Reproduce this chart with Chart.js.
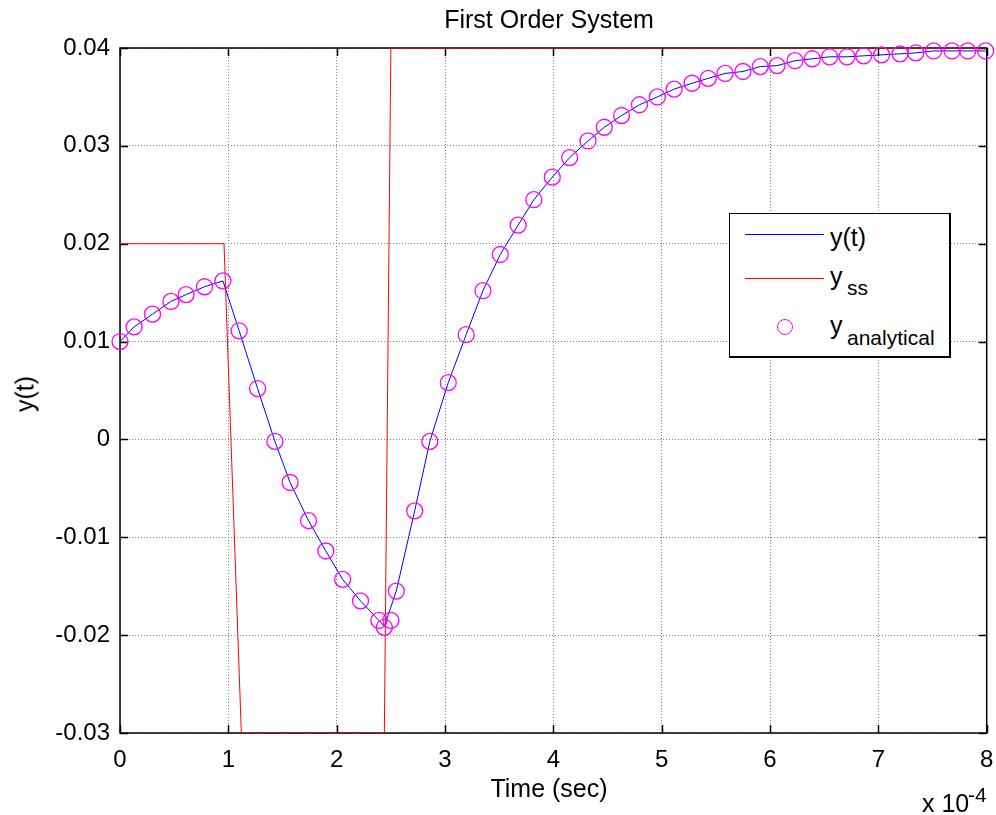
<!DOCTYPE html>
<html>
<head>
<meta charset="utf-8">
<script src="https://cdn.jsdelivr.net/npm/chart.js@4.4.0/dist/chart.umd.min.js"></script>
<style>
  body { margin: 0; background: #fff; }
  #wrap { position: relative; width: 996px; height: 815px; }
  .txt { position: absolute; font-family: 'Liberation Sans', Arial, sans-serif; color: #000; white-space: nowrap; }
</style>
</head>
<body>
<div id="wrap">
  <canvas id="c" width="996" height="815"></canvas>
</div>
<script>
// time axis in units of 1e-4 sec
var ssTime = [0, 0.96, 1.12, 2.44, 2.50, 8];
var ssVals = [0.02, 0.02, -0.03, -0.03, 0.04, 0.04];

var yTime = [0, 0.13, 0.30, 0.47, 0.61, 0.78, 0.95, 1.10, 1.27, 1.43, 1.57, 1.74, 1.90, 2.055, 2.22, 2.39, 2.44,
             2.55, 2.72, 2.86, 3.03, 3.195, 3.35, 3.51, 3.675, 3.82, 3.99, 4.15, 4.32, 4.47, 4.63, 4.795, 4.96,
             5.115, 5.28, 5.43, 5.585, 5.75, 5.91, 6.065, 6.23, 6.39, 6.55, 6.71, 6.865, 7.03, 7.20, 7.345, 7.51,
             7.68, 7.825, 7.99];
var yVals = [0.0100, 0.0115, 0.0128, 0.0141, 0.0148, 0.0156, 0.0162, 0.0111, 0.0052, -0.0002, -0.0044, -0.0083,
             -0.0114, -0.0143, -0.0165, -0.0185, -0.0191, -0.0155, -0.0073, -0.0002, 0.0058, 0.0107, 0.0152,
             0.0189, 0.0219, 0.0245, 0.0268, 0.0288, 0.0305, 0.0319, 0.0331, 0.0342, 0.0350, 0.0358, 0.0364,
             0.0369, 0.0374, 0.0376, 0.0381, 0.0382, 0.0387, 0.0389, 0.0391, 0.0391, 0.0392, 0.0393, 0.0394,
             0.0395, 0.0397, 0.0397, 0.0397, 0.0397];

var aTime = [0, 0.13, 0.30, 0.47, 0.61, 0.78, 0.95, 1.10, 1.27, 1.43, 1.57, 1.74, 1.90, 2.055, 2.22, 2.39, 2.44,
             2.50, 2.55, 2.72, 2.86, 3.03, 3.195, 3.35, 3.51, 3.675, 3.82, 3.99, 4.15, 4.32, 4.47, 4.63, 4.795,
             4.96, 5.115, 5.28, 5.43, 5.585, 5.75, 5.91, 6.065, 6.23, 6.39, 6.55, 6.71, 6.865, 7.03, 7.20, 7.345,
             7.51, 7.68, 7.825, 7.99];
var aVals = [0.0100, 0.0115, 0.0128, 0.0141, 0.0148, 0.0156, 0.0162, 0.0111, 0.0052, -0.0002, -0.0044, -0.0083,
             -0.0114, -0.0143, -0.0165, -0.0185, -0.0192, -0.0185, -0.0155, -0.0073, -0.0002, 0.0058, 0.0107,
             0.0152, 0.0189, 0.0219, 0.0245, 0.0268, 0.0288, 0.0305, 0.0319, 0.0331, 0.0342, 0.0350, 0.0358,
             0.0364, 0.0369, 0.0374, 0.0376, 0.0381, 0.0382, 0.0387, 0.0389, 0.0391, 0.0391, 0.0392, 0.0393,
             0.0394, 0.0395, 0.0397, 0.0397, 0.0397, 0.0397];

var xTicks = [0, 1, 2, 3, 4, 5, 6, 7, 8];
var yTicks = [-0.03, -0.02, -0.01, 0, 0.01, 0.02, 0.03, 0.04];

function pts(t, v) {
    var out = [];
    for (var i = 0; i < t.length; i++) out.push({ x: t[i], y: v[i] });
    return out;
}

var FONT = "'Liberation Sans', Arial, sans-serif";

// axes box + inward ticks, matlab style
var boxPlugin = {
    id: 'box',
    beforeDatasetsDraw: function (chart) {
        var ctx = chart.ctx, a = chart.chartArea;
        var sx = chart.scales.x, sy = chart.scales.y;
        ctx.save();
        ctx.strokeStyle = '#000';
        ctx.lineWidth = 1.5;
        ctx.beginPath();
        xTicks.forEach(function (v) {
            var px = Math.round(sx.getPixelForValue(v)) + 0.5;
            ctx.moveTo(px, a.bottom); ctx.lineTo(px, a.bottom - 8);
            ctx.moveTo(px, a.top); ctx.lineTo(px, a.top + 8);
        });
        yTicks.forEach(function (v) {
            var py = Math.round(sy.getPixelForValue(v)) + 0.5;
            ctx.moveTo(a.left, py); ctx.lineTo(a.left + 8, py);
            ctx.moveTo(a.right, py); ctx.lineTo(a.right - 8, py);
        });
        ctx.stroke();
        ctx.lineWidth = 1.5;
        ctx.strokeRect(a.left, a.top, a.right - a.left, a.bottom - a.top);
        ctx.restore();
    }
};

new Chart(document.getElementById('c'), {
    type: 'scatter',
    data: {
        datasets: [
            {
                label: 'y(t)',
                data: pts(yTime, yVals),
                showLine: true,
                borderColor: '#0000ff',
                borderWidth: 1,
                pointRadius: 0,
                tension: 0,
                order: 3
            },
            {
                label: 'yss',
                data: pts(ssTime, ssVals),
                showLine: true,
                borderColor: '#ff0000',
                borderWidth: 1,
                pointRadius: 0,
                tension: 0,
                order: 2
            },
            {
                label: 'yanalytical',
                data: pts(aTime, aVals),
                showLine: false,
                pointStyle: 'circle',
                pointRadius: 8,
                pointBorderWidth: 1.3,
                pointBorderColor: '#ff00ff',
                pointBackgroundColor: 'rgba(0,0,0,0)',
                clip: false,
                order: 1
            }
        ]
    },
    options: {
        responsive: false,
        animation: false,
        layout: { padding: { top: 48, right: 0, left: 0, bottom: 0 } },
        plugins: { legend: { display: false }, tooltip: { enabled: false } },
        scales: {
            x: {
                type: 'linear', min: 0, max: 8,
                afterBuildTicks: function (s) { s.ticks = xTicks.map(function (v) { return { value: v }; }); },
                afterFit: function (s) { s.height = 82; s.paddingRight = 8; s.paddingLeft = 0; },
                ticks: { color: '#000', padding: 13, maxRotation: 0, font: { family: FONT, size: 24 } },
                grid: { color: '#808080', lineWidth: 1, drawTicks: false },
                border: { display: false, dash: [1, 2] }
            },
            y: {
                min: -0.03, max: 0.04,
                afterBuildTicks: function (s) { s.ticks = yTicks.map(function (v) { return { value: v }; }); },
                afterFit: function (s) { s.width = 120; },
                ticks: {
                    color: '#000', padding: 10, font: { family: FONT, size: 24 },
                    callback: function (v) { return String(Math.round(v * 100) / 100); }
                },
                grid: { color: '#808080', lineWidth: 1, drawTicks: false },
                border: { display: false, dash: [1, 2] }
            }
        }
    },
    plugins: [boxPlugin]
});

// text overlays, placed by baseline
var wrap = document.getElementById('wrap');
function label(txt, x, base, size, center) {
    var d = document.createElement('div');
    d.className = 'txt';
    d.textContent = txt;
    d.style.fontSize = size + 'px';
    d.style.lineHeight = size + 'px';
    d.style.left = x + 'px';
    d.style.top = (base - 0.8465 * size) + 'px';
    if (center) d.style.transform = 'translateX(-50%)';
    wrap.appendChild(d);
    return d;
}
function box(x, y, w, h, css) {
    var d = document.createElement('div');
    d.style.position = 'absolute';
    d.style.left = x + 'px'; d.style.top = y + 'px';
    d.style.width = w + 'px'; d.style.height = h + 'px';
    for (var k in css) d.style[k] = css[k];
    wrap.appendChild(d);
    return d;
}

label('First Order System', 549, 28, 25, true);
label('Time (sec)', 549, 797, 25, true);
label('x 10', 922, 812, 25);
label('-4', 968, 802, 21);
var yl = label('y(t)', 25, 394, 25);
yl.style.top = '394px';
yl.style.transform = 'translate(-50%,-50%) rotate(-90deg)';

// legend
box(729, 213, 219, 142, { border: '1px solid #000', borderRightWidth: '2px', borderBottomWidth: '2px', background: '#fff' });
box(745, 234, 79, 1, { background: '#0000ff' });
box(745, 278, 79, 1, { background: '#ff0000' });
box(777, 319, 14, 14, { border: '1.3px solid #ff00ff', borderRadius: '50%' });
label('y(t)', 830, 246, 25);
label('y', 830, 285, 25);
label('ss', 847, 295, 21);
label('y', 830, 334, 25);
label('analytical', 847, 345, 21);
</script>
</body>
</html>
